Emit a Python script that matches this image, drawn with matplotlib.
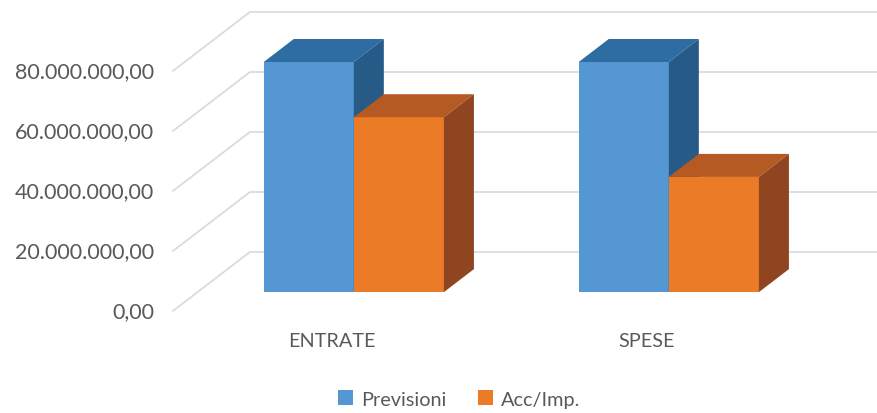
import matplotlib.pyplot as plt
from matplotlib.patches import Polygon, Patch

categories = ["ENTRATE", "SPESE"]
series_names = ["Previsioni", "Acc/Imp."]
previsioni = [76_700_000, 76_700_000]
acc_imp = [58_300_000, 38_400_000]
y_ticks = [0, 20_000_000, 40_000_000, 60_000_000, 80_000_000]

# face colours: front, top, side
blue = ("#5597D3", "#2E6DA1", "#255B86")
orange = ("#EB7B26", "#B45A22", "#8E4520")

# oblique "3d" depth offset, in data units
DX = 77 / 315
DY = 59 / 3 * 1e6


def it_fmt(v):
    s = f"{v:,.2f}"
    return s.replace(",", "X").replace(".", ",").replace("X", ".")


def bar3d(ax, x0, w, h, d0, d1, cols):
    front, top, side = cols
    bx, by = x0 + d0 * DX, d0 * DY
    ddx, ddy = (d1 - d0) * DX, (d1 - d0) * DY
    ax.add_patch(Polygon([(bx, by), (bx + w, by), (bx + w, by + h), (bx, by + h)],
                         closed=True, fc=front, ec="none", zorder=3))
    ax.add_patch(Polygon([(bx, by + h), (bx + w, by + h), (bx + w + ddx, by + h + ddy),
                          (bx + ddx, by + h + ddy)], closed=True, fc=top, ec="none", zorder=3))
    ax.add_patch(Polygon([(bx + w, by), (bx + w + ddx, by + ddy), (bx + w + ddx, by + h + ddy),
                          (bx + w, by + h)], closed=True, fc=side, ec="none", zorder=3))


plt.rcParams['font.family'] = ['Lato', 'DejaVu Sans']
fig = plt.figure(figsize=(8.77, 4.14), dpi=100)
ax = fig.add_axes([0, 0, 1, 1])
ax.set_xlim(-332 / 315, (877 - 332) / 315)
ax.set_ylim(-34e6, 104e6)
ax.axis("off")

# gridlines: floor diagonal + back wall
x_left = -0.505
for t in y_ticks:
    ax.plot([x_left, x_left + DX, 2.0], [t, t + DY, t + DY], color="#D9D9D9", lw=1.2, zorder=1)
    ax.text(x_left - 0.06, t, it_fmt(t), ha="right", va="center", fontsize=15.5, color="#595959")

# bars
bw = 0.286
shift = -0.009
for i, cat in enumerate(categories):
    bar3d(ax, i - bw + shift, bw, previsioni[i], 0.32, 0.71, blue)
    bar3d(ax, i + shift, bw, acc_imp[i], 0.32, 0.71, orange)
    ax.text(i, -10e6, cat, ha="center", va="center", fontsize=14.3, color="#595959")

handles = [Patch(fc=blue[0], ec="none"), Patch(fc=orange[0], ec="none")]
ax.legend(handles, series_names, loc="center", bbox_to_anchor=(0.524, 0.034), ncol=2,
          frameon=False, fontsize=14.3, handlelength=0.75, handleheight=0.75,
          handletextpad=0.4, columnspacing=1.6, labelcolor="#595959")

fig.savefig("out.png", dpi=100)
